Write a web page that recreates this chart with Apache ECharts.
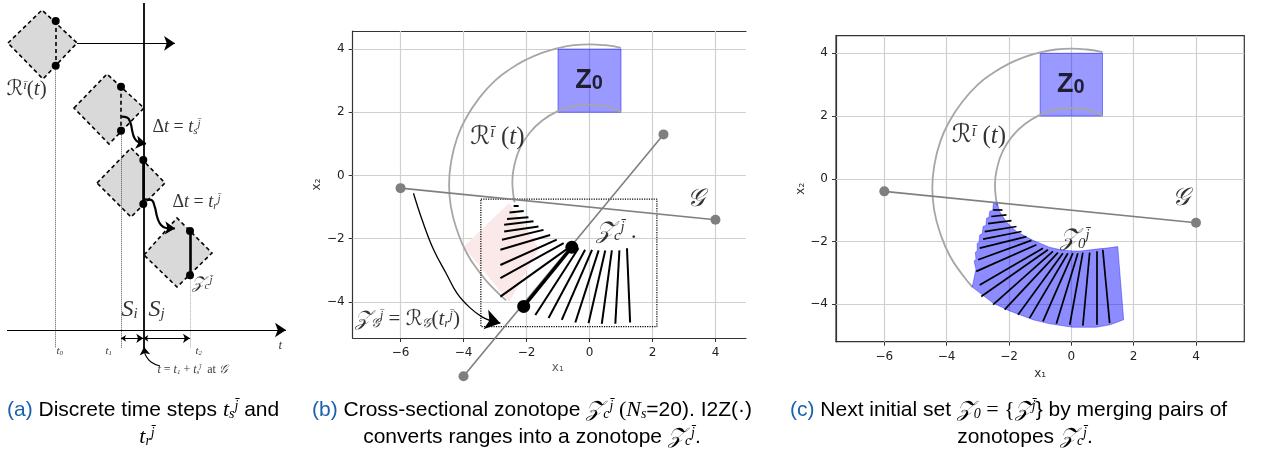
<!DOCTYPE html>
<html>
<head>
<meta charset="utf-8">
<script src="https://cdn.jsdelivr.net/npm/echarts@6/dist/echarts.min.js"></script>
<style>
html,body{margin:0;padding:0;background:#fff}
#main{width:1270px;height:454px}
</style>
</head>
<body>
<div id="main"></div>
<script>
// ---------- panel (a): schematic units (t to the right, y downwards)
var aDiamonds = [
    [[8,43],[42,10],[77,43],[43,79]],
    [[74,108],[107,74],[144,108],[109,144]],
    [[97,183],[131,148],[165,183],[131,217]],
    [[144,255],[177,218],[212,253],[177,287]]
];
var aDashedSections = [[55.7,21,55.7,65.7],[121,86.7,121,130.7]];
var aSolidSections = [[143.3,160,143.3,204],[190,231,190,275.3]];
var aDots = [[55.7,21],[55.7,65.7],[121,86.7],[121,130.7],[143.3,160],[143.3,204],[190,231],[190,275.3]];
var aDotted = [[55.7,65.7,55.7,348],[121,130.7,121,348],[190,275.3,190,348]];
var aGuard = [143.3,3,143.3,348];
var aArrows = [[7,330,286,330],[77,43.3,175,43.3]];
var aDouble = [[121,338.3,143.3,338.3],[143.3,338.3,190,338.3]];
var aWave1 = [[121.7,116.7],[127,117.5],[130.5,123],[132.5,132],[135,139],[139,142.5],[143,143.5]];
var aWave2 = [[144,199.3],[151,199.8],[154.5,206],[157.5,218],[161,225],[166,228],[172,228.3]];
var aWaveHeads = [[139,142.6,146,143.8],[167,228,175,228.4]];
var aPointer = [[160,366],[151,362],[146,356],[144.5,351]];
var aPointerHead = [144.6,352,144,347];
var aLabels = [
    [7,90,'{c|ℛ}{p|ī}{n|(}{m|t}{n|)}',21],
    [153,128,'{n|Δ}{m|t}{n| = }{m|t}{b|s}{p|j̄}',18],
    [173,203,'{n|Δ}{m|t}{n| = }{m|t}{b|r}{p|j̄}',18],
    [192,284,'{c|𝒵}{b|c}{p|j̄}',17],
    [122,310,'{m|S}{b|i}',24],
    [149,310,'{m|S}{b|j}',24],
    [57,352,'{m|t}{b|0}',11],
    [106,352,'{m|t}{b|1}',11],
    [196,352,'{m|t}{b|2}',11],
    [279,346,'{m|t}',13],
    [158,370,'{m|t}{n| = }{m|t}{b|1}{n| + }{m|t}{b|s}{p|j̄}{n|  at }{c|𝒢}',12]
];

// ---------- panels (b) and (c): x1 / x2 plane
var xTicks = [-6,-4,-2,0,2,4];
var yTicks = [-4,-2,0,2,4];
var z0Box = [[-1,2],[1,2],[1,4],[-1,4]];
var guardLine = [[-6,-0.4],[4,-1.4]];
var crossLine = [[-4,-6.35],[2.35,1.3]];
var outerArcB = [[1.0,4.04],[0.5,4.12],[0,4.15],[-0.5,4.12],[-1,4.03],[-1.5,3.88],[-2,3.67],[-2.5,3.38],[-3,3.0],[-3.5,2.45],[-3.9,1.85],[-4.2,1.2],[-4.4,0.4],[-4.46,-0.3],[-4.4,-1.0],[-4.2,-1.75],[-3.9,-2.45],[-3.5,-3.05],[-3.17,-3.45],[-2.65,-3.95]];
var outerArcC = [[1.0,4.04],[0.5,4.12],[0,4.15],[-0.5,4.12],[-1,4.03],[-1.5,3.88],[-2,3.67],[-2.5,3.38],[-3,3.0],[-3.5,2.45],[-3.9,1.85],[-4.2,1.2],[-4.4,0.4],[-4.46,-0.3],[-4.4,-1.0],[-4.2,-1.75],[-3.9,-2.45],[-3.5,-3.05],[-3.17,-3.45]];
var innerArc = [[1.0,2.02],[0.5,2.2],[0,2.25],[-0.5,2.2],[-1,2.04],[-1.5,1.74],[-1.9,1.35],[-2.2,0.88],[-2.38,0.35],[-2.45,-0.2],[-2.42,-0.6],[-2.38,-0.85]];
var pinkZone = [[-2.55,-0.87],[-4.0,-2.25],[-2.55,-4.0],[-1.6,-2.3]];
var boundBox = [[-3.45,-0.75],[2.14,-0.75],[2.14,-4.78],[-3.45,-4.78],[-3.45,-0.75]];
var bSections = [
    [-2.41,-0.96,-2.25,-0.96],[-2.54,-1.17,-2.09,-1.12],[-2.62,-1.38,-1.94,-1.32],
    [-2.71,-1.56,-1.78,-1.45],[-2.71,-1.77,-1.62,-1.61],[-2.78,-2.03,-1.46,-1.72],
    [-2.83,-2.35,-1.25,-1.88],[-2.83,-2.83,-1.04,-2.03],[-2.83,-3.25,-0.82,-2.14],
    [-2.83,-3.83,-0.61,-2.25],[-1.72,-4.41,-0.35,-2.30],[-1.30,-4.51,-0.14,-2.35],
    [-0.88,-4.57,0.08,-2.35],[-0.45,-4.65,0.29,-2.37],[-0.03,-4.67,0.50,-2.37],
    [0.39,-4.69,0.71,-2.37],[0.82,-4.69,0.95,-2.37],[1.29,-4.65,1.19,-2.30]
];
var bThick = [-2.09,-4.14,-0.56,-2.27];
var bArrow = [[-5.59,-0.56],[-5.3,-1.45],[-4.95,-2.35],[-4.55,-3.1],[-4.21,-3.72],[-3.8,-4.18],[-3.4,-4.48],[-3.1,-4.6]];
var bArrowHead = [-3.2,-4.58,-2.83,-4.67];
var cFan = [
    [-2.38,-0.74],[-2.50,-0.78],[-2.52,-1.00],[-2.62,-1.04],[-2.64,-1.22],[-2.72,-1.26],[-2.74,-1.48],
    [-2.83,-1.52],[-2.86,-1.75],[-2.94,-1.79],[-2.96,-2.02],[-3.02,-2.06],[-3.02,-2.30],[-3.08,-2.34],
    [-3.06,-2.56],[-3.12,-2.62],[-3.06,-2.88],[-3.18,-3.45],[-2.51,-3.96],[-2.0,-4.2],[-1.66,-4.33],
    [-1.2,-4.5],[-0.69,-4.62],[0.05,-4.73],[0.80,-4.73],[1.25,-4.65],[1.68,-4.49],[1.49,-2.16],
    [1.2,-2.2],[0.8,-2.24],[0.3,-2.3],[0.05,-2.3],[-0.3,-2.27],[-0.70,-2.18],[-1.23,-1.96],
    [-1.76,-1.68],[-2.08,-1.38],[-2.30,-1.04]
];
var cSections = [
    [-2.51,-0.99,-2.21,-0.99],[-2.57,-1.20,-2.08,-1.15],[-2.67,-1.43,-1.92,-1.33],
    [-2.78,-1.68,-1.76,-1.52],[-2.83,-1.92,-1.60,-1.68],[-2.94,-2.21,-1.44,-1.84],
    [-2.99,-2.58,-1.28,-1.96],[-3.05,-2.95,-1.12,-2.10],[-2.94,-3.38,-0.91,-2.21],
    [-2.89,-3.75,-0.75,-2.26],[-2.51,-4.01,-0.59,-2.31],[-2.14,-4.17,-0.43,-2.35],
    [-1.71,-4.33,-0.27,-2.37],[-1.34,-4.44,-0.11,-2.37],[-0.91,-4.54,0.05,-2.37],
    [-0.48,-4.62,0.21,-2.37],[-0.05,-4.65,0.37,-2.35],[0.37,-4.68,0.59,-2.35],
    [0.80,-4.65,0.80,-2.31],[1.23,-4.60,1.01,-2.26]
];
var bLabels = [
    [0,3.0,'{zb|Z}{zs|0}',0,'center'],
    [-3.77,1.19,'{c|ℛ}{p|ī}{n| (}{m|t}{n|)}',25,'left'],
    [0.22,-1.78,'{c|𝒵}{b|c}{p|j̄}{n| .}',24,'left'],
    [3.39,-0.77,'{c|𝒢}',25,'center'],
    [-7.44,-4.57,'{c|𝒵}{b|𝒢}{p|j̄}{n| = }{c|ℛ}{b|𝒢}{n|(}{m|t}{b|r}{p|j̄}{n|)}',21,'left'],
    [-0.99,-6.09,'{x|x\u2081}',12,'center']
];
var cLabels = [
    [0,3.0,'{zb|Z}{zs|0}',0,'center'],
    [-3.82,1.35,'{c|ℛ}{p|ī}{n| (}{m|t}{n|)}',25,'left'],
    [-0.35,-1.94,'{c|𝒵}{b|0}{p|j̄}',24,'left'],
    [3.54,-0.64,'{c|𝒢}',25,'center']
];

var SERIF = "'Liberation Serif', 'DejaVu Serif', serif";
var CAL = "'DejaVu Serif', 'DejaVu Sans', 'Noto Sans', serif";
var SANS = "'Liberation Sans', Arial, sans-serif";
var TICK = "'DejaVu Sans', sans-serif";

// rich styles; key is 'color' for series labels, 'fill' for graphic texts
function mathRich(size, key, textSize) {
    key = key || 'color';
    textSize = textSize || 20;
    var s = Math.round(size * 0.62);
    var st = {
        m: {fontFamily: SERIF, fontStyle: 'italic', fontSize: size},
        n: {fontFamily: SERIF, fontSize: size},
        c: {fontFamily: CAL, fontStyle: 'italic', fontSize: size},
        p: {fontFamily: SERIF, fontStyle: 'italic', fontSize: s, verticalAlign: 'top'},
        b: {fontFamily: SERIF, fontStyle: 'italic', fontSize: s, verticalAlign: 'bottom'},
        zb: {fontFamily: SANS, fontWeight: 'bold', fontSize: 27},
        zs: {fontFamily: SANS, fontWeight: 'bold', fontSize: 20, verticalAlign: 'bottom'},
        x: {fontFamily: TICK, fontSize: 12},
        bl: {fontFamily: SANS, fontSize: textSize},
        t: {fontFamily: SANS, fontSize: textSize}
    };
    for (var k in st) st[k][key] = '#000';
    st.x[key] = '#333';
    st.bl[key] = '#1a62ad';
    return st;
}

function seg(list) {
    return list.map(function (s) { return {coords: [[s[0], s[1]], [s[2], s[3]]]}; });
}

function polygonSeries(polys, xi, yi, style, z) {
    return {
        type: 'custom', xAxisIndex: xi, yAxisIndex: yi, z: z, silent: true,
        data: polys.map(function (p) { return [p[0][0], p[0][1]]; }),
        renderItem: function (params, api) {
            var pts = polys[params.dataIndex].map(function (p) { return api.coord(p); });
            return {type: 'polygon', shape: {points: pts}, style: style};
        }
    };
}

function linesSeries(list, xi, yi, lineStyle, z, symbol, symbolSize) {
    lineStyle.opacity = 1;
    return {
        type: 'lines', coordinateSystem: 'cartesian2d', xAxisIndex: xi, yAxisIndex: yi,
        data: seg(list), lineStyle: lineStyle, z: z, silent: true, clip: false,
        symbol: symbol || 'none', symbolSize: symbolSize || 0
    };
}

function curveSeries(pts, xi, yi, lineStyle, z, smooth) {
    return {
        type: 'line', xAxisIndex: xi, yAxisIndex: yi, data: pts, smooth: smooth,
        symbol: 'none', lineStyle: lineStyle, z: z, silent: true, clip: false
    };
}

function dotSeries(pts, xi, yi, size, color, z) {
    return {
        type: 'scatter', xAxisIndex: xi, yAxisIndex: yi, data: pts, symbolSize: size,
        itemStyle: {color: color, opacity: 1}, z: z, silent: true, clip: false
    };
}

function labelSeries(list, xi, yi, z) {
    return {
        type: 'scatter', xAxisIndex: xi, yAxisIndex: yi, symbolSize: 1, z: z, silent: true, clip: false,
        itemStyle: {color: 'rgba(0,0,0,0)'},
        data: list.map(function (l) {
            return {
                value: [l[0], l[1]],
                label: {
                    show: true, position: [0, 0], formatter: l[2],
                    align: l[4] || 'left', verticalAlign: 'middle',
                    rich: mathRich(l[3] || 20)
                }
            };
        })
    };
}

function gridLines(xmin, xmax, ymin, ymax) {
    var out = [];
    xTicks.forEach(function (v) { out.push([v, ymin, v, ymax]); });
    yTicks.forEach(function (v) { out.push([xmin, v, xmax, v]); });
    return out;
}

var minus = function (v) { return String(v).replace('-', '\u2212'); };

function xAxisFor(gi, min, max, name) {
    return {
        type: 'value', gridIndex: gi, min: min, max: max, position: 'bottom',
        name: name || '', nameLocation: 'middle', nameGap: 24,
        nameTextStyle: {fontFamily: TICK, fontSize: 12, color: '#333'},
        axisLine: {show: true, onZero: false, lineStyle: {color: '#333', width: 1.2}},
        axisTick: {show: true, customValues: xTicks, length: 4, lineStyle: {color: '#333'}},
        axisLabel: {customValues: xTicks, formatter: minus, color: '#222', fontSize: 12, fontFamily: TICK, margin: 9},
        splitLine: {show: false}
    };
}
function yAxisFor(gi, min, max) {
    return {
        type: 'value', gridIndex: gi, min: min, max: max, position: 'left',
        name: 'x\u2082', nameLocation: 'middle', nameRotate: 90, nameGap: 29,
        nameTextStyle: {fontFamily: TICK, fontSize: 12, color: '#333'},
        axisLine: {show: true, onZero: false, lineStyle: {color: '#333', width: 1.2}},
        axisTick: {show: true, customValues: yTicks, length: 4, lineStyle: {color: '#333'}},
        axisLabel: {customValues: yTicks, formatter: minus, color: '#222', fontSize: 12, fontFamily: TICK, margin: 8},
        splitLine: {show: false}
    };
}

var B = {xmin: -7.52, xmax: 4.97, ymin: -5.14, ymax: 4.57};
var C = {xmin: -7.55, xmax: 5.55, ymin: -5.19, ymax: 4.56};
var gridStyle = {color: '#d0d0d0', width: 1.2};
var blueFill = {fill: 'rgba(0,0,255,0.4)', stroke: 'rgba(0,0,255,0.45)', lineWidth: 1};

var series = [
    // panel (a)
    polygonSeries(aDiamonds, 0, 0, {fill: '#d9d9d9', stroke: '#000', lineWidth: 1.6, lineDash: [4, 3]}, 2),
    linesSeries(aDotted.slice(0, 2), 0, 0, {color: '#555', width: 1, type: 'dotted'}, 3),
    linesSeries(aDotted.slice(2), 0, 0, {color: '#aaa', width: 1, type: 'dotted'}, 3),
    linesSeries([aGuard], 0, 0, {color: '#000', width: 1.8}, 4),
    linesSeries(aDashedSections, 0, 0, {color: '#000', width: 1.6, type: [4, 3]}, 4),
    linesSeries(aSolidSections, 0, 0, {color: '#000', width: 2.6}, 4),
    dotSeries(aDots, 0, 0, 8, '#000', 5),
    linesSeries(aArrows, 0, 0, {color: '#000', width: 1.2}, 4, ['none', 'arrow'], [7, 11]),
    linesSeries(aDouble, 0, 0, {color: '#000', width: 1}, 4, ['arrow', 'arrow'], [5, 7]),
    curveSeries(aWave1, 0, 0, {color: '#000', width: 2.2}, 5, 0.5),
    curveSeries(aWave2, 0, 0, {color: '#000', width: 2.2}, 5, 0.5),
    linesSeries(aWaveHeads, 0, 0, {color: '#000', width: 2}, 5, ['none', 'arrow'], [8, 10]),
    curveSeries(aPointer, 0, 0, {color: '#000', width: 1.2}, 5, 0.5),
    linesSeries([aPointerHead], 0, 0, {color: '#000', width: 1.2}, 5, ['none', 'arrow'], [6, 8]),
    labelSeries(aLabels, 0, 0, 8),

    // panel (b)
    linesSeries(gridLines(B.xmin, B.xmax, B.ymin, B.ymax), 1, 1, gridStyle, 1),
    polygonSeries([pinkZone], 1, 1, {fill: '#fbe9e9'}, 2),
    polygonSeries([z0Box], 1, 1, blueFill, 2),
    curveSeries(outerArcB, 1, 1, {color: '#a6a6a6', width: 1.8}, 3, 0.5),
    curveSeries(innerArc, 1, 1, {color: '#a6a6a6', width: 1.8}, 3, 0.5),
    curveSeries(boundBox, 1, 1, {color: '#000', width: 1.2, type: 'dotted'}, 3, false),
    {type: 'line', xAxisIndex: 1, yAxisIndex: 1, data: guardLine, symbol: 'circle', symbolSize: 10,
        itemStyle: {color: '#7f7f7f'}, lineStyle: {color: '#7f7f7f', width: 1.6}, z: 4, silent: true},
    {type: 'line', xAxisIndex: 1, yAxisIndex: 1, data: crossLine, symbol: 'circle', symbolSize: 10, clip: false,
        itemStyle: {color: '#7f7f7f'}, lineStyle: {color: '#7f7f7f', width: 1.6}, z: 4, silent: true},
    linesSeries(bSections, 1, 1, {color: '#000', width: 2}, 5),
    linesSeries([bThick], 1, 1, {color: '#000', width: 3.4}, 5),
    dotSeries([[bThick[0], bThick[1]], [bThick[2], bThick[3]]], 1, 1, 13, '#000', 6),
    curveSeries(bArrow, 1, 1, {color: '#000', width: 1.3}, 5, 0.4),
    linesSeries([bArrowHead], 1, 1, {color: '#000', width: 1.3}, 5, ['none', 'arrow'], [11, 15]),
    labelSeries(bLabels, 1, 1, 8),

    // panel (c)
    linesSeries(gridLines(C.xmin, C.xmax, C.ymin, C.ymax), 2, 2, gridStyle, 1),
    polygonSeries([z0Box], 2, 2, blueFill, 2),
    curveSeries(outerArcC, 2, 2, {color: '#a6a6a6', width: 1.8}, 3, 0.5),
    curveSeries(innerArc, 2, 2, {color: '#a6a6a6', width: 1.8}, 3, 0.5),
    polygonSeries([cFan], 2, 2, {fill: 'rgba(0,0,255,0.45)', stroke: 'rgba(0,0,255,0.35)', lineWidth: 1}, 4),
    {type: 'line', xAxisIndex: 2, yAxisIndex: 2, data: guardLine, symbol: 'circle', symbolSize: 10,
        itemStyle: {color: '#7f7f7f'}, lineStyle: {color: '#7f7f7f', width: 1.6}, z: 5, silent: true},
    linesSeries(cSections, 2, 2, {color: '#000', width: 1.7}, 5),
    labelSeries(cLabels, 2, 2, 8)
];

function caption(x, y, text, align) {
    return {
        type: 'text', x: x, y: y, silent: true,
        style: {text: text, align: align, verticalAlign: 'middle', rich: mathRich(22, 'fill', 21),
            font: "21px 'Liberation Sans', Arial, sans-serif", fill: '#000'}
    };
}

var option = {
    backgroundColor: '#fff',
    animation: false,
    grid: [
        {left: 0, top: 0, width: 300, height: 380},
        {left: 352.7, top: 31, width: 393.3, height: 307},
        {left: 836, top: 35.7, width: 408.3, height: 306, show: true, borderColor: '#333', borderWidth: 1.2}
    ],
    xAxis: [
        {type: 'value', gridIndex: 0, min: 0, max: 300, show: false},
        xAxisFor(1, B.xmin, B.xmax, ''),
        xAxisFor(2, C.xmin, C.xmax, 'x\u2081'),
        {type: 'value', gridIndex: 1, min: B.xmin, max: B.xmax, position: 'top',
            axisLine: {show: true, onZero: false, lineStyle: {color: '#333', width: 1.2}},
            axisTick: {show: false}, axisLabel: {show: false}, splitLine: {show: false}}
    ],
    yAxis: [
        {type: 'value', gridIndex: 0, min: 0, max: 380, inverse: true, show: false},
        yAxisFor(1, B.ymin, B.ymax),
        yAxisFor(2, C.ymin, C.ymax)
    ],
    series: series,
    graphic: [
        caption(7, 410, '{bl|(a)}{t| Discrete time steps }{m|t}{b|s}{p|j̄}{t| and}', 'left'),
        caption(147, 437, '{m|t}{b|r}{p|j̄}', 'center'),
        caption(312, 410, '{bl|(b)}{t| Cross-sectional zonotope }{c|𝒵}{b|c}{p|j̄}{n| (}{m|N}{b|s}{t|=20). I2Z(·)}', 'left'),
        caption(532, 437, '{t|converts ranges into a zonotope }{c|𝒵}{b|c}{p|j̄}{t|.}', 'center'),
        caption(790, 410, '{bl|(c)}{t| Next initial set }{c|𝒵}{b|0}{n| = {}{c|𝒵}{p|j̄}{n|}}{t| by merging pairs of}', 'left'),
        caption(1025, 437, '{t|zonotopes }{c|𝒵}{b|c}{p|j̄}{t|.}', 'center')
    ]
};

var chart = echarts.init(document.getElementById('main'), null, {renderer: 'canvas'});
chart.setOption(option);
</script>
</body>
</html>
